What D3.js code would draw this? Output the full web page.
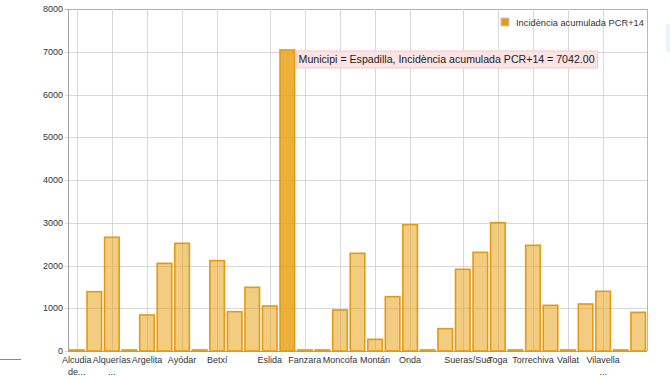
<!DOCTYPE html>
<html>
<head>
<meta charset="utf-8">
<script src="https://cdn.jsdelivr.net/npm/d3@7"></script>
<style>
  body { margin: 0; background: #fff; }
  svg { display: block; font-family: "Liberation Sans", Arial, sans-serif; }
</style>
</head>
<body>
<div id="plot"></div>
<script>
// Municipalities (category axis)
const municipis = [
    "Alcudia de Veo", "Almenara", "Alquerías del Niño Perdido", "Arañuel", "Argelita",
    "Artana", "Ayódar", "Azuébar", "Betxí", "Burriana", "Chilches/Xilxes",
    "Eslida", "Espadilla", "Fanzara", "Fuentes de Ayódar", "Moncofa", "Montanejos",
    "Montán", "Nules", "Onda", "Pavías", "Ribesalbes", "Sueras/Suera", "Tales",
    "Toga", "Torralba del Pinar", "Torrechiva", "Vall d'Uixó", "Vallat", "Vila-real",
    "Vilavella, la", "Villamalur", "Xilxes"
];

// Incidència acumulada PCR+14
const incidencia = [
    0, 1387, 2660, 0, 842,
    2051, 2519, 0, 2113, 920, 1490,
    1053, 7042, 0, 0, 959, 2285,
    273, 1271, 2955, 0, 523, 1911, 2308,
    3002, 0, 2472, 1068, 0, 1099,
    1396, 0, 904
];

// tick labels that the chart actually shows (category, line 1, line 2)
const tickLabels = [
    ["Alcudia de Veo", "Alcudia", "de..."],
    ["Alquerías del Niño Perdido", "Alquerías", "..."],
    ["Argelita", "Argelita", ""],
    ["Ayódar", "Ayódar", ""],
    ["Betxí", "Betxí", ""],
    ["Eslida", "Eslida", ""],
    ["Fanzara", "Fanzara", ""],
    ["Moncofa", "Moncofa", ""],
    ["Montán", "Montán", ""],
    ["Onda", "Onda", ""],
    ["Sueras/Suera", "Sueras/Sue", ""],
    ["Toga", "Toga", ""],
    ["Torrechiva", "Torrechiva", ""],
    ["Vallat", "Vallat", ""],
    ["Vilavella, la", "Vilavella", "..."]
];

const yTicks = [0, 1000, 2000, 3000, 4000, 5000, 6000, 7000, 8000];
const seriesName = "Incidència acumulada PCR+14";
const highlighted = "Espadilla";

const width = 670, height = 377;
const margin = {top: 9, right: 23, bottom: 26, left: 68};
const innerWidth = width - margin.left - margin.right;
const innerHeight = height - margin.top - margin.bottom;

const svg = d3.select("#plot").append("svg")
    .attr("width", width)
    .attr("height", height);

const g = svg.append("g")
    .attr("transform", `translate(${margin.left},${margin.top})`);

const x = d3.scaleBand()
    .domain(municipis)
    .range([0, innerWidth])
    .paddingInner(0.17)
    .paddingOuter(0.085);

const y = d3.scaleLinear()
    .domain([0, 8000])
    .range([innerHeight, 0]);

const center = d => x(d) + x.bandwidth() / 2;

// Horizontal grid
g.append("g")
    .selectAll("line")
    .data(yTicks)
    .join("line")
    .attr("x1", -3)
    .attr("x2", innerWidth)
    .attr("y1", d => Math.round(y(d)) + 0.5)
    .attr("y2", d => Math.round(y(d)) + 0.5)
    .attr("stroke", d => d === 8000 ? "#b0b0b0" : "#d8d8d8")
    .attr("stroke-width", 1);

// Vertical grid at shown labels
g.append("g")
    .selectAll("line")
    .data(tickLabels)
    .join("line")
    .attr("x1", d => Math.round(center(d[0])) + 0.5)
    .attr("x2", d => Math.round(center(d[0])) + 0.5)
    .attr("y1", 0)
    .attr("y2", innerHeight)
    .attr("stroke", "#d8d8d8");

// Right border
g.append("line")
    .attr("x1", innerWidth + 0.5).attr("x2", innerWidth + 0.5)
    .attr("y1", 0).attr("y2", innerHeight)
    .attr("stroke", "#b8b8b8");

// Bars (zero values still show a thin line on the baseline)
g.append("g")
    .selectAll("rect")
    .data(municipis)
    .join("rect")
    .attr("x", d => x(d))
    .attr("width", x.bandwidth())
    .attr("y", (d, i) => Math.min(y(incidencia[i]), innerHeight - 1))
    .attr("height", (d, i) => Math.max(innerHeight - y(incidencia[i]), 1))
    .attr("fill", "#e8a317")
    .attr("fill-opacity", d => d === highlighted ? 0.85 : 0.55)
    .attr("stroke", "#e39a14")
    .attr("stroke-width", 1.6);

// Axes lines
g.append("line")
    .attr("x1", 0.5).attr("x2", 0.5)
    .attr("y1", 0).attr("y2", innerHeight)
    .attr("stroke", "#a0a0a0");
g.append("line")
    .attr("x1", 0).attr("x2", innerWidth)
    .attr("y1", innerHeight + 0.5).attr("y2", innerHeight + 0.5)
    .attr("stroke", "#a0a0a0");

// Y tick labels
g.append("g")
    .selectAll("text")
    .data(yTicks)
    .join("text")
    .attr("x", -5)
    .attr("y", d => y(d) + 3)
    .attr("text-anchor", "end")
    .attr("font-size", 9)
    .attr("fill", "#333")
    .text(d => d);

// X tick labels
const xl = g.append("g")
    .selectAll("text")
    .data(tickLabels)
    .join("text")
    .attr("x", d => center(d[0]) + (d[1] === "Sueras/Sue" ? 5 : 0))
    .attr("y", innerHeight + 12)
    .attr("text-anchor", "middle")
    .attr("font-size", 9)
    .attr("fill", "#333");
xl.append("tspan").text(d => d[1]);
xl.append("tspan")
    .attr("x", d => center(d[0]))
    .attr("dy", 11.5)
    .text(d => d[2]);

// Legend
const legend = g.append("g").attr("transform", `translate(${433},${9})`);
legend.append("rect")
    .attr("width", 8).attr("height", 8)
    .attr("fill", "#e39a14")
    .attr("stroke", "#c8c8c8");
legend.append("text")
    .attr("x", 15).attr("y", 7.5)
    .attr("font-size", 9.3)
    .attr("fill", "#333")
    .text(seriesName);

// Tooltip for the highlighted bar
const hi = municipis.indexOf(highlighted);
const tipX = x(highlighted) + x.bandwidth() + 2;
const tipY = y(incidencia[hi]) + 1;
const tipText = `Municipi = ${highlighted}, ${seriesName} = ${incidencia[hi].toFixed(2)}`;
const tip = g.append("g").attr("transform", `translate(${tipX},${tipY})`);
const tipRect = tip.append("rect")
    .attr("height", 17)
    .attr("fill", "#fde3e3")
    .attr("stroke", "#f7c8c8");
const tipLabel = tip.append("text")
    .attr("x", 2).attr("y", 12.5)
    .attr("font-size", 10.6)
    .attr("fill", "#222")
    .text(tipText);
tipRect.attr("width", tipLabel.node().getComputedTextLength() + 5);

// stray line at bottom left
svg.append("line")
    .attr("x1", 0).attr("x2", 21)
    .attr("y1", 359.5).attr("y2", 359.5)
    .attr("stroke", "#888");

// faint element at the right edge
svg.append("rect")
    .attr("x", 666).attr("y", 24)
    .attr("width", 4).attr("height", 28)
    .attr("fill", "#eef4fb");
</script>
</body>
</html>
